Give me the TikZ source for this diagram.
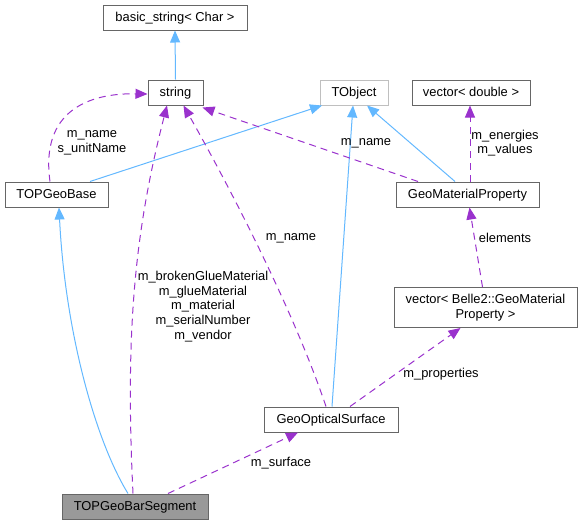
\documentclass[tikz,border=0pt]{standalone}
\usepackage{fontspec}
\setmainfont{Liberation Sans}
\usetikzlibrary{arrows.meta}
\definecolor{edgeblue}{HTML}{63B8FF}
\definecolor{edgepurple}{HTML}{9A32CD}
\definecolor{boxborder}{HTML}{666666}
\definecolor{lightborder}{HTML}{BFBFBF}
\definecolor{boxfill}{HTML}{999999}
\tikzset{
  cls/.style={draw=boxborder, line width=1pt, fill=white, inner sep=0pt, minimum height=25pt, text height=10.2pt, text depth=1.8pt, align=center, font=\fontsize{12.9}{14.7}\selectfont},
  inh/.style={draw=edgeblue, line width=1pt, -{Triangle[length=12pt,width=10pt]}},
  usage/.style={draw=edgepurple, line width=1pt, dash pattern=on 7pt off 5pt, -{Triangle[length=12pt,width=10pt]}},
  lbl/.style={font=\fontsize{12.9}{14.7}\selectfont, align=center, inner sep=0pt}
}
\begin{document}
\begin{tikzpicture}[x=1pt,y=-1pt]
\useasboundingbox (0,0) rectangle (583,525);
% nodes
\node[cls, minimum width=144pt] (basic) at (175,17.5) {basic\_string< Char >};
\node[cls, minimum width=55pt] (string) at (175.5,92.5) {string};
\node[cls, minimum width=68pt, draw=lightborder] (tobject) at (354,92.5) {TObject};
\node[cls, minimum width=118pt] (vecd) at (471,92.5) {vector< double >};
\node[cls, minimum width=103pt] (base) at (56.5,194.5) {TOPGeoBase};
\node[cls, minimum width=143pt] (gmp) at (467.5,194.5) {GeoMaterialProperty};
\node[cls, minimum width=183pt, minimum height=40pt, text height=, text depth=] (vecb) at (485.5,307.5) {vector< Belle2::GeoMaterial\\Property >};
\node[cls, minimum width=134pt] (gos) at (331,419.5) {GeoOpticalSurface};
\node[cls, minimum width=146pt, fill=boxfill] (seg) at (135,506.5) {TOPGeoBarSegment};
% inheritance edges
\draw[inh] (string.north) -- (basic.south);
\draw[inh] ([xshift=33.5pt]base.north) -- ([xshift=-32pt]tobject.south);
\draw[inh] ([xshift=-12.5pt]gmp.north) -- ([xshift=13pt]tobject.south);
\draw[inh] ([xshift=1pt]gos.north) -- ([xshift=-1pt]tobject.south);
\draw[inh] ([xshift=-7pt]seg.north) .. controls (95,440) and (65,330) .. ([xshift=2.5pt]base.south);
% usage edges
\draw[usage] ([xshift=-6.5pt]base.north) .. controls (40,110) and (90,93) .. ([yshift=-1.5pt]string.west);
\draw[usage] ([xshift=-2pt]seg.north) .. controls (125,330) and (135,230) .. ([xshift=-8.5pt]string.south);
\draw[usage] ([xshift=-5pt]gos.north) .. controls (290,300) and (220,170) .. ([xshift=8pt]string.south);
\draw[usage] ([xshift=-49.5pt]gmp.north) -- ([xshift=-1pt,yshift=-2pt]string.south east);
\draw[usage] ([xshift=2.5pt]gmp.north) -- ([xshift=-1pt]vecd.south);
\draw[usage] ([xshift=-3pt]vecb.north) -- ([xshift=2pt]gmp.south);
\draw[usage] ([xshift=19pt]gos.north) -- ([xshift=-25pt]vecb.south);
\draw[usage] ([xshift=33pt]seg.north) -- ([xshift=-33pt]gos.south);
% labels
\node[lbl] (l1) at (92,143) {m\_name\\s\_unitName};
\node[lbl] (l2) at (203,306.5) {m\_brokenGlueMaterial\\m\_glueMaterial\\m\_material\\m\_serialNumber\\m\_vendor};
\node[lbl] (l3) at (291,238) {m\_name};
\node[lbl] (l4) at (366,143) {m\_name};
\node[lbl] (l5) at (505,143) {m\_energies\\m\_values};
\node[lbl] (l6) at (505,238) {elements};
\node[lbl] (l7) at (441,374) {m\_properties};
\node[lbl] (l8) at (281,463) {m\_surface};
\end{tikzpicture}
\end{document}
